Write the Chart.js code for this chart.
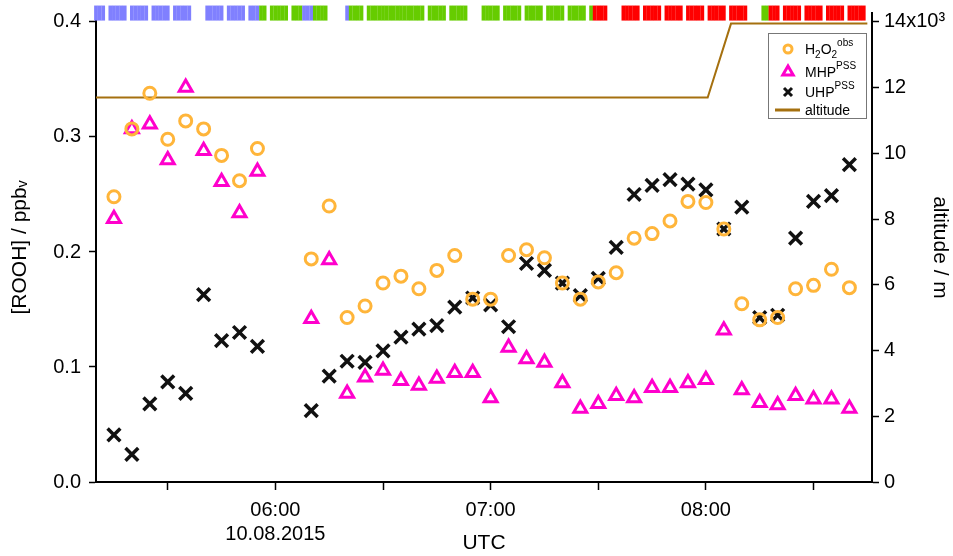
<!DOCTYPE html>
<html>
<head>
<meta charset="utf-8">
<script src="https://cdn.jsdelivr.net/npm/chart.js@4.4.1/dist/chart.umd.min.js"></script>
<style>
  html, body { margin: 0; padding: 0; background: #fff; }
</style>
</head>
<body>
<canvas id="chart" width="953" height="556"></canvas>
<script>
// sample times (UTC, 10.08.2015)
const sampleTimes = ['05:15', '05:20', '05:25', '05:30', '05:35', '05:40', '05:45', '05:50', '05:55',
    '06:10', '06:15', '06:20', '06:25', '06:30', '06:35', '06:40', '06:45', '06:50', '06:55', '07:00',
    '07:05', '07:10', '07:15', '07:20', '07:25', '07:30', '07:35', '07:40', '07:45', '07:50',
    '07:55', '08:00', '08:05', '08:10', '08:15', '08:20', '08:25', '08:30', '08:35', '08:40'];

const h2o2Obs = [0.248, 0.307, 0.338, 0.298, 0.314, 0.307, 0.284, 0.262, 0.290,
    0.194, 0.240, 0.143, 0.153, 0.173, 0.179, 0.168, 0.184, 0.197, 0.159, 0.159,
    0.197, 0.202, 0.195, 0.173, 0.159, 0.174, 0.182, 0.212, 0.216, 0.227,
    0.244, 0.243, 0.220, 0.155, 0.141, 0.143, 0.168, 0.171, 0.185, 0.169];

const mhpPss = [0.229, 0.307, 0.311, 0.280, 0.343, 0.288, 0.261, 0.234, 0.270,
    0.142, 0.193, 0.077, 0.091, 0.097, 0.088, 0.084, 0.090, 0.095, 0.095, 0.073,
    0.117, 0.107, 0.104, 0.086, 0.064, 0.068, 0.075, 0.073, 0.082, 0.082,
    0.086, 0.089, 0.132, 0.080, 0.069, 0.067, 0.075, 0.072, 0.072, 0.064];

const uhpPss = [0.041, 0.024, 0.068, 0.087, 0.077, 0.163, 0.123, 0.130, 0.118,
    0.062, 0.092, 0.105, 0.104, 0.114, 0.126, 0.133, 0.136, 0.152, 0.160, 0.154,
    0.135, 0.190, 0.184, 0.173, 0.162, 0.177, 0.204, 0.250, 0.258, 0.263,
    0.259, 0.254, 0.220, 0.239, 0.143, 0.145, 0.212, 0.244, 0.249, 0.276];

const altTimes = ['05:10:00', '08:00:30', '08:07:00', '08:45:00'];
const altitude = [11700, 11700, 13950, 13950];

// flag strip at the top: segments of one-minute samples
const flagStart = ['05:09:30', '05:13:30', '05:19:30', '05:25:30', '05:31:30', '05:40:30', '05:46:30',
    '05:52:30', '05:55:30', '05:58:30', '06:04:30', '06:07:30', '06:10:30', '06:19:30', '06:20:30',
    '06:25:30', '06:42:30', '06:48:30', '06:57:30', '07:03:30', '07:09:30', '07:15:30', '07:21:30',
    '07:27:30', '07:28:30', '07:36:30', '07:42:30', '07:48:30', '07:54:30', '08:00:30', '08:06:30',
    '08:15:30', '08:17:30', '08:21:30', '08:27:30', '08:33:30', '08:39:30'];
const flagEnd = ['05:12:30', '05:18:30', '05:24:30', '05:30:30', '05:36:30', '05:45:30', '05:51:30',
    '05:55:30', '05:57:30', '06:03:30', '06:07:30', '06:10:30', '06:14:30', '06:20:30', '06:24:30',
    '06:41:30', '06:47:30', '06:53:30', '07:02:30', '07:08:30', '07:14:30', '07:20:30', '07:26:30',
    '07:28:30', '07:32:30', '07:41:30', '07:47:30', '07:53:30', '07:59:30', '08:05:30', '08:11:30',
    '08:17:30', '08:20:30', '08:26:30', '08:32:30', '08:38:30', '08:44:30'];
const flagCode = ['B', 'B', 'B', 'B', 'B', 'B', 'B',
    'B', 'G', 'G', 'G', 'B', 'G', 'B', 'G',
    'G', 'G', 'G', 'G', 'G', 'G', 'G', 'G',
    'G', 'R', 'R', 'R', 'R', 'R', 'R', 'R',
    'G', 'R', 'R', 'R', 'R', 'R'];
const flagColors = { B: '#8080ff', G: '#66cc00', R: '#ff0000' };

const xTicks = ['05:30', '06:00', '06:30', '07:00', '07:30', '08:00', '08:30'];
const xTickLabels = ['', ['06:00', '10.08.2015'], '', '07:00', '', '08:00', ''];
const leftTicks = [0, 0.1, 0.2, 0.3, 0.4];
const leftTickLabels = ['0.0', '0.1', '0.2', '0.3', '0.4'];
const rightTicks = [0, 2000, 4000, 6000, 8000, 10000, 12000, 14000];
const rightTickLabels = ['0', '2', '4', '6', '8', '10', '12', '14x10\u00B3'];

const FONT = "'Liberation Sans', Arial, sans-serif";
const yMax = 0.4078;
const altMax = yMax * 35000;
const stripLo = 0.4015;
const stripHi = 0.414;

function toMin(s) {
    const p = s.split(':').map(Number);
    return p[0] * 60 + p[1] + (p[2] || 0) / 60;
}

const stripBars = [];
const stripColors = [];
flagStart.forEach((s, i) => {
    const end = toMin(flagEnd[i]);
    for (let t = toMin(s); t < end - 0.01; t += 1) {
        stripBars.push({ x: t + 0.5, y: [stripLo, stripHi] });
        stripColors.push(flagColors[flagCode[i]]);
    }
});

function series(values) {
    return sampleTimes.map((t, i) => ({ x: toMin(t), y: values[i] }));
}

// legend drawn by hand so that sub- and superscripts work
function drawMarker(ctx, kind, x, y) {
    ctx.beginPath();
    if (kind === 'circle') {
        ctx.strokeStyle = '#ffb53a';
        ctx.lineWidth = 3;
        ctx.arc(x, y, 4, 0, Math.PI * 2);
    } else if (kind === 'triangle') {
        ctx.strokeStyle = '#ff00cc';
        ctx.lineWidth = 3;
        const r = 6;
        ctx.moveTo(x, y - r);
        ctx.lineTo(x + r * 0.866, y + r / 2);
        ctx.lineTo(x - r * 0.866, y + r / 2);
        ctx.closePath();
    } else if (kind === 'cross') {
        ctx.strokeStyle = '#111';
        ctx.lineWidth = 3;
        const d = 4;
        ctx.moveTo(x - d, y - d); ctx.lineTo(x + d, y + d);
        ctx.moveTo(x + d, y - d); ctx.lineTo(x - d, y + d);
    } else {
        ctx.strokeStyle = '#a5700f';
        ctx.lineWidth = 3;
        ctx.moveTo(x - 13, y); ctx.lineTo(x + 12, y);
    }
    ctx.stroke();
}

function drawRich(ctx, parts, x, y) {
    parts.forEach(([text, kind]) => {
        let size = 14, dy = 0;
        if (kind === 'sub') { size = 10; dy = 4; }
        if (kind === 'sup') { size = 10; dy = -8; }
        ctx.font = size + 'px ' + FONT;
        ctx.fillText(text, x, y + dy);
        x += ctx.measureText(text).width;
    });
}

const legendRows = [
    { kind: 'circle', parts: [['H'], ['2', 'sub'], ['O'], ['2', 'sub'], ['obs', 'sup']], dy: 0 },
    { kind: 'triangle', parts: [['MHP'], ['PSS', 'sup']], dy: 23 },
    { kind: 'cross', parts: [['UHP'], ['PSS', 'sup']], dy: 43 },
    { kind: 'line', parts: [['altitude']], dy: 61 }
];

const legendBox = {
    id: 'legendBox',
    afterDraw(chart) {
        const ctx = chart.ctx;
        const area = chart.chartArea;
        const left = area.right - 104, top = 33, w = 98, h = 85;
        ctx.save();
        ctx.fillStyle = '#fff';
        ctx.fillRect(left, top, w, h);
        ctx.strokeStyle = '#777';
        ctx.lineWidth = 1;
        ctx.strokeRect(left + 0.5, top + 0.5, w, h);
        ctx.fillStyle = '#000';
        ctx.textBaseline = 'alphabetic';
        legendRows.forEach(row => {
            const cy = top + 16 + row.dy;
            drawMarker(ctx, row.kind, left + 20, cy);
            drawRich(ctx, row.parts, left + 37, cy + 5);
        });
        ctx.restore();
    }
};

// drop the label overflow padding so the plot area sits where the layout says
function noPad(s) {
    s.paddingTop = 0;
    s.paddingBottom = 0;
    s.paddingLeft = 0;
    s.paddingRight = 0;
}

const tickFont = { family: FONT, size: 20 };
const titleFont = { family: FONT, size: 21 };

new Chart(document.getElementById('chart'), {
    type: 'scatter',
    data: {
        datasets: [
            {
                label: 'H2O2 obs',
                data: series(h2o2Obs),
                yAxisID: 'y',
                pointStyle: 'circle',
                pointRadius: 6,
                pointBorderWidth: 3,
                pointBorderColor: '#ffb53a',
                pointBackgroundColor: 'rgba(0,0,0,0)',
                order: 1
            },
            {
                label: 'UHP PSS',
                data: series(uhpPss),
                yAxisID: 'y',
                pointStyle: 'crossRot',
                pointRadius: 9,
                pointBorderWidth: 3.5,
                pointBorderColor: '#111',
                order: 2
            },
            {
                label: 'MHP PSS',
                data: series(mhpPss),
                yAxisID: 'y',
                pointStyle: 'triangle',
                pointRadius: 7.5,
                pointBorderWidth: 3,
                pointBorderColor: '#ff00cc',
                pointBackgroundColor: 'rgba(0,0,0,0)',
                order: 3
            },
            {
                type: 'line',
                label: 'altitude',
                data: altTimes.map((t, i) => ({ x: toMin(t), y: altitude[i] })),
                yAxisID: 'y2',
                borderColor: '#a5700f',
                borderWidth: 2,
                pointRadius: 0,
                tension: 0,
                order: 4
            },
            {
                type: 'bar',
                label: 'flag',
                data: stripBars,
                yAxisID: 'y',
                backgroundColor: stripColors,
                barThickness: 3.1,
                grouped: false,
                clip: false,
                order: 5
            }
        ]
    },
    options: {
        responsive: false,
        animation: false,
        devicePixelRatio: 1,
        layout: { padding: { top: 13, left: 0, right: 0, bottom: 0 } },
        plugins: {
            legend: { display: false },
            tooltip: { enabled: false }
        },
        scales: {
            x: {
                type: 'linear',
                position: 'bottom',
                min: 310,
                max: 526.3,
                offset: false,
                afterBuildTicks: s => { s.ticks = xTicks.map(t => ({ value: toMin(t) })); },
                afterFit: s => { s.height = 74; noPad(s); },
                grid: { offset: false, drawOnChartArea: false, drawTicks: true, tickLength: 8, tickColor: '#000', tickWidth: 1.5 },
                border: { display: true, color: '#000', width: 2 },
                ticks: {
                    autoSkip: false,
                    maxRotation: 0,
                    color: '#000',
                    font: tickFont,
                    padding: 8,
                    callback: v => xTickLabels[xTicks.findIndex(t => toMin(t) === v)]
                },
                title: { display: true, text: 'UTC', color: '#000', font: titleFont, padding: { top: 0, bottom: 0 } }
            },
            y: {
                type: 'linear',
                position: 'left',
                min: 0,
                max: yMax,
                afterBuildTicks: s => { s.ticks = leftTicks.map(v => ({ value: v })); },
                afterFit: s => { s.width = 96; noPad(s); },
                grid: { drawOnChartArea: false, drawTicks: true, tickLength: 7, tickColor: '#000', tickWidth: 1.5 },
                border: { display: true, color: '#000', width: 2 },
                ticks: {
                    color: '#000',
                    font: tickFont,
                    padding: 8,
                    callback: v => leftTickLabels[leftTicks.indexOf(v)]
                },
                title: { display: true, text: '[ROOH] / ppb\u1D65', color: '#000', font: titleFont, padding: { top: 8, bottom: 0 } }
            },
            y2: {
                type: 'linear',
                position: 'right',
                min: 0,
                max: altMax,
                afterBuildTicks: s => { s.ticks = rightTicks.map(v => ({ value: v })); },
                afterFit: s => { s.width = 81; noPad(s); },
                grid: { drawOnChartArea: false, drawTicks: true, tickLength: 7, tickColor: '#000', tickWidth: 1.5 },
                border: { display: true, color: '#000', width: 2 },
                ticks: {
                    color: '#000',
                    font: tickFont,
                    padding: 5,
                    callback: v => rightTickLabels[rightTicks.indexOf(v)]
                },
                title: { display: true, text: 'altitude / m', color: '#000', font: titleFont, padding: { top: 1, bottom: 0 } }
            }
        }
    },
    plugins: [legendBox]
});
</script>
</body>
</html>
